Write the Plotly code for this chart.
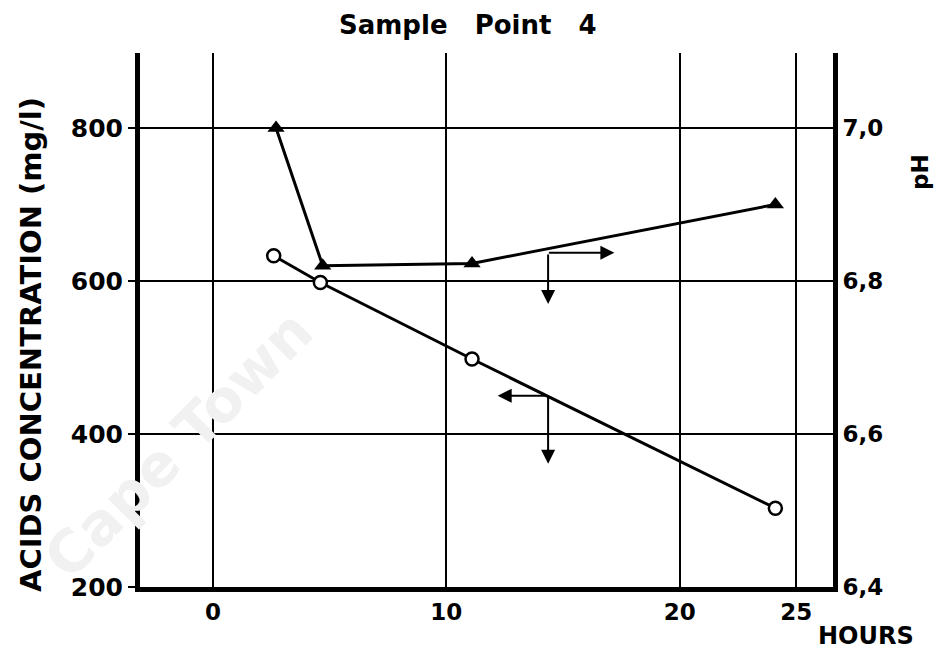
import plotly.graph_objects as go

# Data
hours_acid = [2.6, 4.6, 11.1, 24.1]
acid_conc = [633, 598, 498, 303]
hours_ph = [2.7, 4.7, 11.1, 24.1]
ph_vals = [7.0, 6.82, 6.823, 6.90]

x_ticks = [0, 10, 20, 25]
x_ticktext = ["0", "10", "20", "25"]
y_ticks = [200, 400, 600, 800]
y_ticktext = ["200", "400", "600", "800"]
ph_ticks = [6.4, 6.6, 6.8, 7.0]
ph_ticktext = ["6,4", "6,6", "6,8", "7,0"]

FONT = "DejaVu Sans"
font_b = dict(family=FONT, size=23, color="black", weight="bold")
font_left = dict(family=FONT, size=25, color="black", weight="bold")

# page pixel -> paper coordinate helpers (plot area: x 140..833, y 53..587)
def px(xp):
    return (xp - 140) / 693

def py(yp):
    return (587 - yp) / 534

fig = go.Figure()
fig.add_trace(go.Scatter(
    x=hours_acid, y=acid_conc, mode="lines+markers",
    line=dict(color="black", width=3),
    marker=dict(symbol="circle", size=13, color="white",
                line=dict(color="black", width=2.5)),
    yaxis="y", showlegend=False))
fig.add_trace(go.Scatter(
    x=hours_ph, y=ph_vals, mode="lines+markers",
    line=dict(color="black", width=3),
    marker=dict(symbol="triangle-up", size=15, color="black"),
    yaxis="y2", showlegend=False))

fig.update_layout(
    width=943, height=645,
    margin=dict(l=132, r=118, t=45, b=66),
    paper_bgcolor="white", plot_bgcolor="white",
    font=font_b,
    xaxis=dict(range=[-3.13, 26.57], tickvals=x_ticks, ticktext=x_ticktext,
               showgrid=True, gridcolor="black", gridwidth=2,
               showline=True, linecolor="black", linewidth=5,
               ticks="", zeroline=False, tickfont=font_b),
    yaxis=dict(range=[200, 898], tickvals=y_ticks, ticktext=y_ticktext,
               showgrid=True, gridcolor="black", gridwidth=2,
               showline=True, linecolor="black", linewidth=5,
               ticks="outside", ticklen=7, tickwidth=2, tickcolor="black",
               zeroline=False, tickfont=font_left),
    yaxis2=dict(range=[6.4, 7.098], tickvals=ph_ticks, ticktext=ph_ticktext,
                overlaying="y", side="right", showgrid=False,
                showline=True, linecolor="black", linewidth=5,
                ticks="", zeroline=False, tickfont=font_b),
)

# faint watermark (drawn first so it sits under the other annotations)
fig.add_annotation(text="Cape Town", textangle=-45, xref="paper", yref="paper",
                   x=px(178), y=py(445), xanchor="center", yanchor="middle",
                   showarrow=False,
                   font=dict(family=FONT, size=58, color="#f1f1f1"))

# direction arrows (pH -> right axis, acids -> left axis)
arrow = dict(showarrow=True, arrowhead=2, arrowsize=1.4, arrowwidth=2,
             arrowcolor="black", text="", xref="x", yref="y")
fig.add_annotation(x=17.2, y=637, ax=-67, ay=0, **arrow)
fig.add_annotation(x=14.36, y=570, ax=0, ay=-51, **arrow)
fig.add_annotation(x=12.2, y=450, ax=50, ay=0, **arrow)
fig.add_annotation(x=14.36, y=361, ax=0, ay=-68, **arrow)

# titles
fig.add_annotation(text="Sample&nbsp;&nbsp;&nbsp;Point&nbsp;&nbsp;&nbsp;4",
                   xref="paper", yref="paper",
                   x=px(468), y=py(25), xanchor="center", yanchor="middle",
                   showarrow=False,
                   font=dict(family=FONT, size=26, color="black", weight="bold"))
fig.add_annotation(text="ACIDS CONCENTRATION (mg/l)", textangle=-90,
                   xref="paper", yref="paper",
                   x=px(31), y=py(345), xanchor="center", yanchor="middle",
                   showarrow=False,
                   font=dict(family=FONT, size=29, color="black", weight="bold"))
fig.add_annotation(text="pH", textangle=-90, xref="paper", yref="paper",
                   x=px(920), y=py(172), xanchor="center", yanchor="middle",
                   showarrow=False,
                   font=dict(family=FONT, size=23, color="black", weight="bold"))
fig.add_annotation(text="HOURS", xref="paper", yref="paper",
                   x=px(866), y=py(636), xanchor="center", yanchor="middle",
                   showarrow=False,
                   font=dict(family=FONT, size=24, color="black", weight="bold"))

fig.write_html("out.html")
